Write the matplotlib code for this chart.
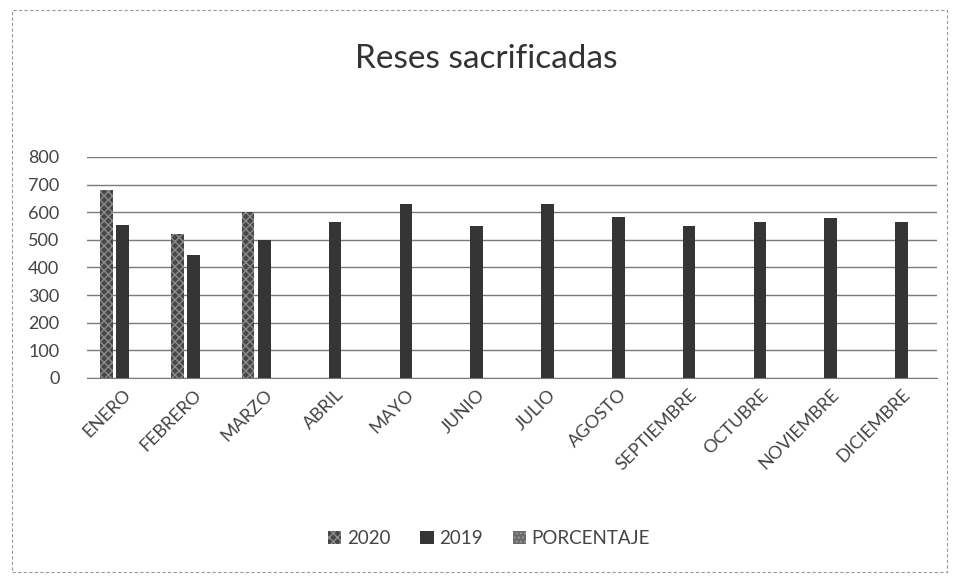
import numpy as np
import matplotlib.pyplot as plt
from matplotlib.patches import Patch, Rectangle

plt.rcParams['font.family'] = ['Lato', 'DejaVu Sans']

# Values
months = ["ENERO", "FEBRERO", "MARZO", "ABRIL", "MAYO", "JUNIO", "JULIO",
          "AGOSTO", "SEPTIEMBRE", "OCTUBRE", "NOVIEMBRE", "DICIEMBRE"]
values_2020 = [680, 520, 600]
values_2019 = [555, 445, 500, 565, 630, 550, 630, 583, 550, 565, 580, 565]
values_pct = []  # series present in legend only
y_ticks = [0, 100, 200, 300, 400, 500, 600, 700, 800]

fig = plt.figure(figsize=(9.59, 5.77), dpi=100)
ax = fig.add_axes([0.091, 0.345, 0.886, 0.383])

x = np.arange(len(months))
width = 0.18
step = 0.23

ax.bar(x[:len(values_2020)] - step, values_2020, width, color="#474747",
       hatch="xxxx", edgecolor="#8c8c8c", linewidth=0, zorder=3)
ax.bar(x, values_2019, width, color="#353535", zorder=3)
if values_pct:
    ax.bar(x[:len(values_pct)] + step, values_pct, width, color="#6a6a6a",
           hatch="....", edgecolor="#999999", linewidth=0, zorder=3)

ax.set_xlim(-0.5, len(months) - 0.5)
ax.set_ylim(0, 800)
ax.set_yticks(y_ticks)
ax.tick_params(axis="y", length=0, labelsize=13, colors="#444444", pad=20)
ax.tick_params(axis="x", length=0, pad=6)
ax.set_xticks(x)
ax.set_xticklabels(months, rotation=45, ha="right", rotation_mode="anchor",
                   fontsize=13, color="#444444")
ax.grid(axis="y", color="#7a7a7a", linewidth=1.0, zorder=0)
for side in ["top", "right", "left"]:
    ax.spines[side].set_visible(False)
ax.spines["bottom"].set_color("#7a7a7a")

fig.text(0.507, 0.897, "Reses sacrificadas", ha="center", va="center",
         fontsize=24, color="#333333")

handles = [
    Patch(facecolor="#474747", hatch="xxxx", edgecolor="#8c8c8c", linewidth=0, label="2020"),
    Patch(facecolor="#353535", label="2019"),
    Patch(facecolor="#6a6a6a", hatch="....", edgecolor="#999999", linewidth=0, label="PORCENTAJE"),
]
fig.legend(handles=handles, loc="center", bbox_to_anchor=(0.51, 0.067), ncol=3,
           frameon=False, fontsize=13.5, handlelength=0.7, handleheight=0.7,
           handletextpad=0.3, columnspacing=1.6, labelcolor="#444444")

# chart border
fig.patches.append(Rectangle((0.012, 0.008), 0.976, 0.975, transform=fig.transFigure,
                             fill=False, edgecolor="#9a9a9a", linewidth=0.8,
                             linestyle=(0, (3, 2))))

fig.savefig("out.png", dpi=100)
